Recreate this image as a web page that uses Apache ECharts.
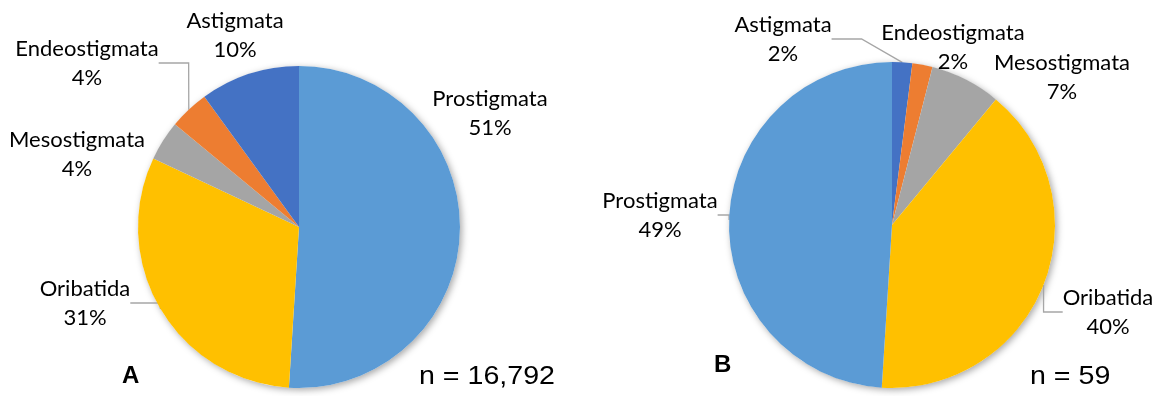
<!DOCTYPE html>
<html>
<head>
<meta charset="utf-8">
<script src="https://cdn.jsdelivr.net/npm/echarts@6/dist/echarts.min.js"></script>
<style>
  html, body { margin: 0; padding: 0; background: #fff; }
  #chart { width: 1162px; height: 396px; }
</style>
</head>
<body>
<div id="chart"></div>
<script>
// mite suborders, share of individuals (%)
const categories = ['Astigmata', 'Endeostigmata', 'Mesostigmata', 'Oribatida', 'Prostigmata']
const colors = ['#4472C4', '#ED7D31', '#A5A5A5', '#FFC000', '#5B9BD5']
const shareA = [10, 4, 4, 31, 51]
const shareB = [2, 2, 7, 40, 49]
// slice order clockwise from 12 o'clock
const orderA = ['Prostigmata', 'Oribatida', 'Mesostigmata', 'Endeostigmata', 'Astigmata']
const orderB = ['Astigmata', 'Endeostigmata', 'Mesostigmata', 'Oribatida', 'Prostigmata']
const panelLetters = ['A', 'B']
const sampleSizes = ['16,792', '59']

// label block centres (x, y) and whether a leader line shows, per panel
const labelPos = [
  {
    Astigmata: [235, 35, false],
    Endeostigmata: [87, 63, true],
    Mesostigmata: [77, 154, false],
    Oribatida: [85, 303, true],
    Prostigmata: [490, 113, false]
  },
  {
    Astigmata: [783, 39, true],
    Endeostigmata: [953, 47, false],
    Mesostigmata: [1062, 77, false],
    Oribatida: [1108, 312, true],
    Prostigmata: [660, 215, true]
  }
]

const pies = [
  { center: [299, 227], radius: 161, share: shareA, order: orderA },
  { center: [892, 225], radius: 163, share: shareB, order: orderB }
]

const labelFont = 'Lato, "Open Sans", sans-serif'

function buildData (p, i) {
  return p.order.map(name => {
    const k = categories.indexOf(name)
    return {
      name: name,
      value: p.share[k],
      itemStyle: { color: colors[k] },
      labelLine: { show: labelPos[i][name][2] }
    }
  })
}

let series = []
pies.forEach((p, i) => {
  // soft drop shadow under the whole pie
  series.push({
    type: 'pie',
    silent: true,
    z: 1,
    center: p.center,
    radius: p.radius,
    label: { show: false },
    labelLine: { show: false },
    itemStyle: {
      color: '#ffffff',
      shadowBlur: 7,
      shadowColor: 'rgba(0,0,0,0.35)',
      shadowOffsetX: 2,
      shadowOffsetY: 2
    },
    data: [{ name: 'shadow', value: 1 }]
  })
  series.push({
    type: 'pie',
    z: 2,
    center: p.center,
    radius: p.radius,
    startAngle: 90,
    clockwise: true,
    avoidLabelOverlap: false,
    itemStyle: { borderWidth: 0 },
    label: {
      show: true,
      position: 'outside',
      overflow: 'none',
      formatter: params => params.name + '\n' + Math.round(params.percent) + '%',
      color: '#000',
      fontFamily: labelFont,
      fontSize: 22,
      lineHeight: 29,
      align: 'center'
    },
    labelLine: {
      lineStyle: { color: '#A6A6A6', width: 1.3 }
    },
    labelLayout: params => {
      const pos = labelPos[i][params.text.split('\n')[0]]
      if (!pos) return {}
      return { x: pos[0], y: pos[1], align: 'center', verticalAlign: 'middle' }
    },
    emphasis: { disabled: true },
    data: buildData(p, i)
  })
})

let chart = echarts.init(document.getElementById('chart'), null, { renderer: 'canvas' })
chart.setOption({
  animation: false,
  backgroundColor: '#ffffff',
  series: series,
  graphic: [
    {
      type: 'text', left: 122, top: 364,
      style: { text: panelLetters[0], font: 'bold 24px "Liberation Sans", Arial', fill: '#000' }
    },
    {
      type: 'text', left: 714, top: 353,
      style: { text: panelLetters[1], font: 'bold 24px "Liberation Sans", Arial', fill: '#000' }
    },
    {
      type: 'text', x: 419, y: 364, scaleX: 1.1,
      style: { text: 'n = ' + sampleSizes[0], font: '26px "Liberation Sans", Arial', fill: '#000' }
    },
    {
      type: 'text', x: 1030, y: 364, scaleX: 1.1,
      style: { text: 'n = ' + sampleSizes[1], font: '26px "Liberation Sans", Arial', fill: '#000' }
    }
  ]
})
</script>
</body>
</html>
